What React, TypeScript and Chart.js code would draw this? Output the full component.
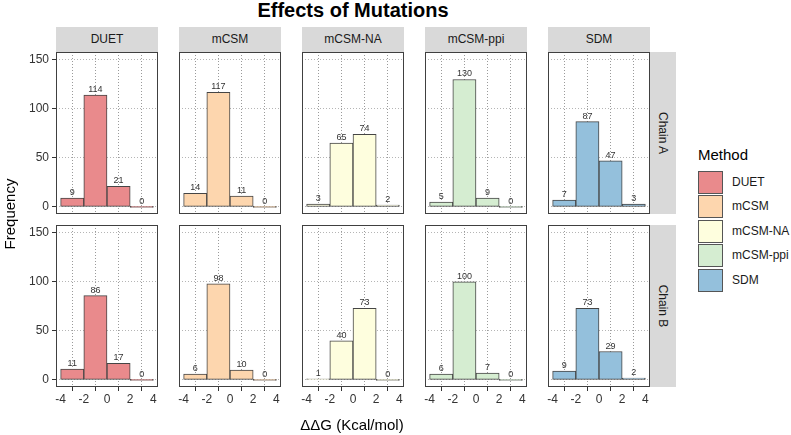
import React, { useEffect, useRef } from "react";
import { Chart, registerables } from "chart.js";

Chart.register(...registerables);

// ---------- data ----------
const methods = ["DUET", "mCSM", "mCSM-NA", "mCSM-ppi", "SDM"];
const chains = ["Chain A", "Chain B"];
const binCenters = [-3, -1, 1, 3];
const xTickStep = 2;
const yTickStep = 50;

const duetA = [9, 114, 21, 0];
const mcsmA = [14, 117, 11, 0];
const mcsmNaA = [3, 65, 74, 2];
const mcsmPpiA = [5, 130, 9, 0];
const sdmA = [7, 87, 47, 3];

const duetB = [11, 86, 17, 0];
const mcsmB = [6, 98, 10, 0];
const mcsmNaB = [1, 40, 73, 0];
const mcsmPpiB = [6, 100, 7, 0];
const sdmB = [9, 73, 29, 2];

const chainACounts = [duetA, mcsmA, mcsmNaA, mcsmPpiA, sdmA];
const chainBCounts = [duetB, mcsmB, mcsmNaB, mcsmPpiB, sdmB];
const countsByChain = [chainACounts, chainBCounts];

const methodColors = [
  "rgb(233,138,140)",
  "rgb(253,214,174)",
  "rgb(254,254,222)",
  "rgb(213,237,209)",
  "rgb(148,192,220)",
];

// ---------- layout ----------
const FONT = '"Liberation Sans", Arial, Helvetica, sans-serif';
const PANEL_W = 102;
const PANEL_H = 162;
const colLeft = [56, 179, 302, 425, 548];
const rowTop = [52, 225];
const Y_AXIS_W = 36;
const X_AXIS_H = 24;
const M = 12;

const barLabelPlugin = {
  id: "barLabels",
  afterDatasetsDraw(chart: any) {
    const ctx = chart.ctx;
    const meta = chart.getDatasetMeta(0);
    const ds = chart.data.datasets[0];
    ctx.save();
    ctx.font = `9px ${FONT}`;
    ctx.fillStyle = "#333333";
    ctx.textAlign = "center";
    ctx.textBaseline = "alphabetic";
    meta.data.forEach((el: any, i: number) => {
      const v = ds.data[i].y;
      ctx.fillText(String(v), el.x, el.y - 3);
    });
    ctx.restore();
  },
};

const panelBorderPlugin = {
  id: "panelBorder",
  afterDraw(chart: any) {
    const { ctx, chartArea } = chart;
    ctx.save();
    ctx.strokeStyle = "#404040";
    ctx.lineWidth = 1;
    ctx.strokeRect(
      chartArea.left + 0.5,
      chartArea.top + 0.5,
      chartArea.right - chartArea.left - 1,
      chartArea.bottom - chartArea.top - 1
    );
    ctx.restore();
  },
};

function Panel({ row, col }: { row: number; col: number }) {
  const ref = useRef<HTMLCanvasElement>(null);
  const showY = col === 0;
  const showX = row === 1;
  const padLeft = showY ? 0 : M;
  const leftExtra = showY ? Y_AXIS_W : M;
  const bottomExtra = showX ? X_AXIS_H : M;
  const w = leftExtra + PANEL_W + M;
  const h = M + PANEL_H + bottomExtra;
  const left = colLeft[col] - leftExtra;
  const top = rowTop[row] - M;
  const values = countsByChain[row][col];
  const color = methodColors[col];

  useEffect(() => {
    if (!ref.current) return;
    const chart = new Chart(ref.current, {
      type: "bar",
      data: {
        datasets: [
          {
            data: binCenters.map((x, i) => ({ x, y: values[i] })),
            backgroundColor: color,
            borderColor: "#454545",
            borderWidth: 1,
            borderSkipped: false,
            barPercentage: 1,
            categoryPercentage: 1,
            minBarLength: 1,
          } as any,
        ],
      },
      options: {
        responsive: false,
        animation: false,
        devicePixelRatio: 1,
        events: [],
        layout: {
          padding: { left: padLeft, right: M, top: M, bottom: showX ? 0 : M },
        },
        plugins: {
          legend: { display: false },
          tooltip: { enabled: false },
          title: { display: false },
        },
        scales: {
          x: {
            type: "linear",
            min: -4.4,
            max: 4.4,
            offset: false,
            afterFit: (s: any) => {
              s.height = showX ? X_AXIS_H : 0;
            },
            ticks: {
              display: showX,
              stepSize: xTickStep,
              includeBounds: false,
              autoSkip: false,
              maxRotation: 0,
              padding: 1,
              color: "#333333",
              font: { family: FONT, size: 12 },
            },
            grid: {
              color: "#9a9a9a",
              lineWidth: 1,
              drawTicks: showX,
              tickLength: 4,
              tickColor: "#333333",
              tickBorderDash: [],
            } as any,
            border: { display: false, dash: [1, 2] },
          },
          y: {
            type: "linear",
            min: -7.2,
            max: 158,
            afterFit: (s: any) => {
              s.width = showY ? Y_AXIS_W : 0;
            },
            ticks: {
              display: showY,
              stepSize: yTickStep,
              includeBounds: false,
              padding: 3,
              color: "#333333",
              font: { family: FONT, size: 12 },
            },
            grid: {
              color: "#b5b5b5",
              lineWidth: 1,
              drawTicks: showY,
              tickLength: 4,
              tickColor: "#333333",
              tickBorderDash: [],
            } as any,
            border: { display: false, dash: [1, 2] },
          },
        },
      },
      plugins: [barLabelPlugin, panelBorderPlugin],
    });
    return () => chart.destroy();
  }, []);

  return (
    <canvas
      ref={ref}
      width={w}
      height={h}
      style={{ position: "absolute", left, top, width: w, height: h }}
    />
  );
}

export default function App() {
  const textBase: React.CSSProperties = {
    position: "absolute",
    fontFamily: FONT,
    color: "#1a1a1a",
    whiteSpace: "nowrap",
  };
  return (
    <div
      style={{
        position: "absolute",
        left: 0,
        top: 0,
        width: 791,
        height: 435,
        background: "#ffffff",
        overflow: "hidden",
      }}
    >
      {/* title */}
      <div
        style={{
          ...textBase,
          left: 0,
          width: 706,
          top: 0,
          textAlign: "center",
          fontWeight: "bold",
          fontSize: 20,
          lineHeight: "20px",
          color: "#000",
        }}
      >
        Effects of Mutations
      </div>

      {/* column strips */}
      {methods.map((m, c) => (
        <div
          key={m}
          style={{
            ...textBase,
            left: colLeft[c],
            top: 27,
            width: PANEL_W,
            height: 25,
            background: "#d9d9d9",
            textAlign: "center",
            fontSize: 12,
            lineHeight: "25px",
          }}
        >
          {m}
        </div>
      ))}

      {/* row strips */}
      {chains.map((ch, r) => (
        <div
          key={ch}
          style={{
            position: "absolute",
            left: 650,
            top: rowTop[r],
            width: 26,
            height: PANEL_H,
            background: "#d9d9d9",
          }}
        >
          <div
            style={{
              ...textBase,
              left: 13,
              top: PANEL_H / 2,
              fontSize: 12,
              lineHeight: "12px",
              transform: "translate(-50%, -50%) rotate(90deg)",
            }}
          >
            {ch}
          </div>
        </div>
      ))}

      {/* panels */}
      {[0, 1].map((r) =>
        methods.map((m, c) => <Panel key={`${r}-${c}`} row={r} col={c} />)
      )}

      {/* axis titles */}
      <div
        style={{
          ...textBase,
          left: 9,
          top: 214,
          fontSize: 15,
          lineHeight: "15px",
          color: "#000",
          transform: "translate(-50%, -50%) rotate(-90deg)",
        }}
      >
        Frequency
      </div>
      <div
        style={{
          ...textBase,
          left: 352,
          top: 424,
          fontSize: 15,
          lineHeight: "15px",
          color: "#000",
          transform: "translate(-50%, -50%)",
        }}
      >
        ΔΔG (Kcal/mol)
      </div>

      {/* legend */}
      <div
        style={{
          ...textBase,
          left: 698,
          top: 147,
          fontSize: 15,
          lineHeight: "16px",
          color: "#000",
        }}
      >
        Method
      </div>
      {methods.map((m, i) => (
        <React.Fragment key={m}>
          <div
            style={{
              position: "absolute",
              left: 698,
              top: 171 + i * 24.4,
              width: 25,
              height: 23,
              boxSizing: "border-box",
              background: methodColors[i],
              border: "1px solid #555555",
            }}
          />
          <div
            style={{
              ...textBase,
              left: 732,
              top: 171 + i * 24.4,
              height: 23,
              fontSize: 12,
              lineHeight: "23px",
            }}
          >
            {m}
          </div>
        </React.Fragment>
      ))}
    </div>
  );
}
